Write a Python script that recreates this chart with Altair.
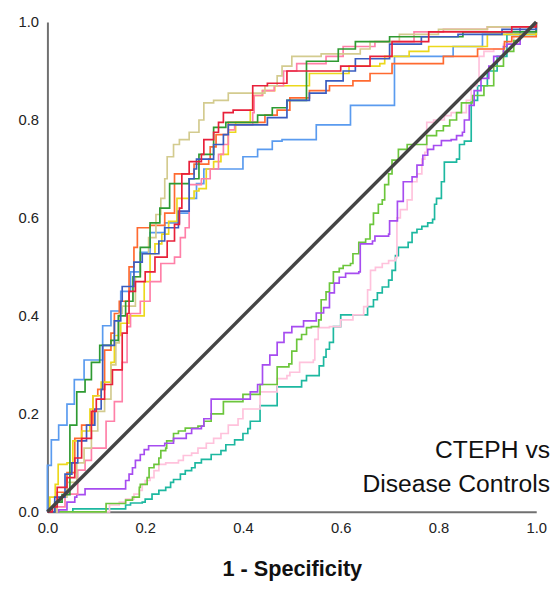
import altair as alt
import pandas as pd

# ---- ROC curves (1 - specificity, sensitivity) ----
tan_x = [0, .02, .04, .06, .075, .09, .103, .117, .13, .14, .147, .153, .18, .19, .207, .222, .232, .24, .245, .258, .27, .29, .31, .32, .34, .37, .43, .445, .47, .48, .50, .56, .64, .66, .72, .80, .90, 1]
tan_y = [0, .03, .06, .10, .13, .165, .205, .23, .30, .345, .405, .42, .48, .527, .56, .607, .64, .68, .725, .75, .76, .775, .80, .835, .84, .855, .855, .87, .89, .91, .93, .935, .945, .96, .975, .985, .99, 1]

red_x = [0, .01, .02, .04, .056, .07, .09, .10, .117, .133, .153, .163, .167, .18, .20, .22, .245, .26, .27, .275, .29, .315, .32, .34, .35, .36, .38, .42, .45, .49, .59, .60, .66, .705, .78, .95, 1]
red_y = [0, .01, .05, .07, .11, .15, .205, .23, .26, .29, .365, .405, .45, .47, .49, .52, .553, .587, .62, .69, .715, .73, .76, .775, .795, .815, .82, .87, .875, .90, .90, .91, .93, .96, .98, .99, 1]

dgreen_x = [0, .015, .03, .046, .06, .077, .09, .107, .13, .145, .16, .175, .19, .21, .23, .25, .29, .31, .34, .365, .43, .46, .49, .53, .53, .595, .63, .70, .85, 1]
dgreen_y = [0, .02, .035, .177, .245, .27, .305, .34, .35, .40, .43, .48, .54, .59, .62, .67, .68, .73, .785, .795, .81, .825, .84, .88, .92, .945, .96, .97, .98, 1]

blue_x = [0, .015, .036, .05, .062, .08, .097, .11, .113, .137, .15, .153, .177, .194, .228, .24, .268, .29, .30, .305, .34, .36, .37, .43, .45, .49, .536, .57, .605, .63, .70, .765, .84, .93, 1]
blue_y = [0, .03, .077, .10, .145, .177, .21, .25, .34, .39, .43, .46, .51, .527, .553, .58, .614, .68, .70, .72, .75, .77, .79, .79, .805, .84, .855, .88, .90, .925, .955, .97, .975, .985, 1]

orange_x = [0, .02, .04, .056, .07, .093, .103, .117, .13, .137, .147, .167, .177, .184, .21, .24, .26, .26, .29, .30, .33, .333, .345, .37, .43, .445, .47, .496, .536, .577, .625, .66, .705, .81, .88, .935, .95, 1]
orange_y = [0, .04, .08, .15, .177, .237, .25, .33, .365, .405, .43, .50, .54, .58, .585, .61, .62, .69, .69, .71, .72, .745, .77, .795, .795, .81, .82, .845, .86, .87, .88, .895, .915, .93, .945, .96, .97, 1]

yellow_x = [0, .005, .016, .022, .04, .052, .07, .087, .093, .11, .13, .137, .15, .167, .198, .21, .22, .234, .248, .265, .29, .30, .31, .32, .325, .34, .355, .37, .385, .415, .42, .44, .465, .536, .60, .617, .68, .69, .74, .78, .90, 1]
yellow_y = [0, .03, .056, .097, .10, .145, .165, .21, .237, .265, .305, .36, .385, .40, .47, .527, .547, .567, .593, .64, .64, .655, .66, .66, .70, .715, .73, .775, .795, .82, .85, .86, .87, .895, .895, .91, .915, .93, .94, .95, .975, 1]

pink_x = [0, .01, .036, .062, .077, .09, .12, .137, .153, .163, .17, .19, .21, .232, .26, .272, .282, .29, .315, .333, .35, .36, .37, .383, .42, .423, .44, .464, .483, .51, .57, .605, .67, .75, .81, .90, 1]
pink_y = [0, .01, .036, .085, .105, .13, .185, .225, .305, .378, .405, .43, .47, .507, .52, .56, .58, .668, .68, .70, .73, .75, .78, .79, .815, .85, .86, .87, .90, .915, .93, .95, .96, .98, .985, .99, 1]

lblue_x = [0, 0, .008, .023, .04, .055, .075, .093, .113, .13, .15, .17, .19, .21, .24, .27, .29, .305, .32, .395, .40, .43, .46, .48, .55, .62, .71, .71, .77, .83, .89, 1]
lblue_y = [0, .095, .147, .177, .22, .27, .31, .31, .38, .41, .45, .49, .53, .57, .59, .61, .64, .67, .70, .70, .725, .74, .757, .76, .79, .83, .885, .93, .93, .95, .975, 1]

purple_x = [0, .023, .04, .056, .06, .077, .157, .16, .167, .174, .18, .19, .198, .207, .238, .24, .258, .28, .284, .295, .315, .32, .335, .34, .415, .43, .44, .455, .47, .484, .50, .524, .55, .565, .577, .587, .597, .61, .637, .64, .665, .67, .698, .70, .716, .728, .746, .756, .768, .778, .79, .806, .826, .837, .849, .853, .863, .873, .887, .903, .913, .933, .94, .967, 1]
purple_y = [0, .004, .02, .03, .035, .047, .047, .064, .077, .09, .105, .117, .127, .135, .135, .14, .15, .15, .16, .17, .175, .19, .23, .23, .245, .26, .30, .32, .346, .366, .378, .39, .406, .417, .447, .467, .479, .487, .49, .547, .553, .563, .567, .594, .634, .674, .684, .708, .728, .74, .748, .758, .76, .768, .775, .80, .83, .86, .885, .91, .93, .95, .955, .99, 1]

lgreen_x = [0, .12, .12, .157, .16, .174, .188, .19, .204, .208, .218, .228, .232, .242, .244, .258, .268, .282, .308, .32, .335, .36, .40, .435, .47, .494, .50, .51, .52, .53, .54, .555, .56, .57, .577, .585, .597, .605, .62, .625, .637, .651, .66, .667, .677, .685, .69, .698, .705, .718, .736, .776, .796, .81, .823, .837, .847, .87, .893, .913, .933, .954, .967, 1]
lgreen_y = [0, 0, .017, .017, .024, .03, .05, .056, .07, .09, .097, .11, .125, .13, .145, .16, .165, .171, .175, .185, .20, .225, .24, .26, .296, .302, .328, .352, .362, .376, .378, .392, .433, .449, .467, .49, .497, .503, .507, .527, .55, .557, .587, .61, .628, .637, .668, .69, .718, .74, .75, .768, .778, .788, .80, .815, .835, .85, .87, .91, .94, .962, .99, 1]

lpink_x = [0, .12, .127, .147, .16, .177, .188, .194, .2, .21, .218, .228, .242, .268, .278, .295, .308, .325, .34, .355, .37, .39, .40, .435, .47, .49, .496, .516, .544, .547, .554, .577, .60, .625, .647, .655, .661, .671, .685, .698, .712, .715, .722, .736, .746, .756, .766, .772, .776, .79, .812, .826, .857, .867, .879, .883, .893, .913, .933, .954, 1]
lpink_y = [0, 0, .014, .02, .026, .036, .044, .056, .064, .07, .084, .097, .1, .105, .115, .12, .13, .14, .15, .16, .177, .19, .21, .245, .272, .278, .285, .305, .31, .352, .376, .378, .392, .402, .419, .453, .493, .499, .507, .513, .519, .60, .617, .637, .674, .69, .72, .734, .795, .80, .809, .815, .84, .87, .88, .93, .94, .945, .955, .98, 1]

teal_x = [0, .052, .16, .17, .194, .2, .214, .228, .242, .252, .258, .272, .282, .295, .302, .315, .335, .355, .365, .383, .40, .41, .415, .435, .47, .516, .52, .53, .554, .556, .565, .57, .577, .585, .60, .65, .655, .667, .675, .685, .698, .705, .712, .718, .738, .746, .756, .766, .778, .788, .792, .796, .806, .812, .837, .843, .853, .867, .867, .88, .90, .92, .94, .94, 1]
teal_y = [0, .006, .014, .018, .02, .026, .036, .044, .05, .06, .066, .077, .084, .09, .10, .107, .117, .125, .137, .147, .16, .17, .185, .217, .255, .255, .268, .278, .278, .298, .316, .332, .346, .378, .402, .402, .419, .433, .447, .459, .473, .493, .523, .54, .55, .57, .577, .583, .59, .597, .628, .64, .674, .714, .72, .75, .757, .757, .84, .87, .90, .93, .935, .975, 1]

diag_x = [0, 1]
diag_y = [0, 1]

curve_names = ["teal", "lpink", "lgreen", "purple", "lblue", "orange", "yellow", "pink", "tan", "dgreen", "blue", "red"]
curve_colors = ["#1db8a0", "#ffc2dc", "#6cc63c", "#a64cf0", "#5a9bef", "#ff6a30", "#ecd81c", "#ff80a8", "#d3cb8f", "#2e9a32", "#3a5cc0", "#e8203a"]
tick_values = [0, 0.2, 0.4, 0.6, 0.8, 1.0]
annotation_lines = ["CTEPH vs", "Disease Controls"]
x_title = "1 - Specificity"

series = {
    "teal": (teal_x, teal_y), "lpink": (lpink_x, lpink_y), "lgreen": (lgreen_x, lgreen_y),
    "purple": (purple_x, purple_y), "lblue": (lblue_x, lblue_y), "orange": (orange_x, orange_y),
    "yellow": (yellow_x, yellow_y), "pink": (pink_x, pink_y), "tan": (tan_x, tan_y),
    "dgreen": (dgreen_x, dgreen_y), "blue": (blue_x, blue_y), "red": (red_x, red_y),
}

rows = []
for name in curve_names:
    xs, ys = series[name]
    for i, (xv, yv) in enumerate(zip(xs, ys)):
        rows.append({"curve": name, "fpr": xv, "tpr": yv, "idx": i})
df = pd.DataFrame(rows)

font = "Liberation Sans"
xs_ = alt.Scale(domain=[0, 1], nice=False, zero=False)
ys_ = alt.Scale(domain=[0, 1], nice=False, zero=False)

xaxis = alt.Axis(title=x_title, values=tick_values, format=".1f", grid=False, ticks=False,
                 labelFlush=False, domainColor="#707070", domainWidth=2, labelFontSize=15,
                 labelFont=font, labelColor="#222", labelPadding=9, titleFontSize=22,
                 titleFont=font, titleFontWeight="bold", titleColor="#111", titlePadding=24)
yaxis = alt.Axis(title=None, values=tick_values, format=".1f", grid=False, ticks=False,
                 labelFlush=False, domainColor="#707070", domainWidth=2, labelFontSize=15,
                 labelFont=font, labelColor="#222", labelPadding=9)

lines = alt.Chart(df).mark_line(interpolate="step-after", strokeWidth=1.7).encode(
    x=alt.X("fpr:Q", scale=xs_, axis=xaxis),
    y=alt.Y("tpr:Q", scale=ys_, axis=yaxis),
    color=alt.Color("curve:N", scale=alt.Scale(domain=curve_names, range=curve_colors), legend=None),
    detail="curve:N",
    order="idx:Q",
)

diag = alt.Chart(pd.DataFrame({"fpr": diag_x, "tpr": diag_y})).mark_line(
    color="#444444", strokeWidth=3.5).encode(
    x=alt.X("fpr:Q", scale=xs_), y=alt.Y("tpr:Q", scale=ys_))

label = alt.Chart(pd.DataFrame({"t": [0]})).mark_text(
    text=annotation_lines, align="right", baseline="alphabetic", fontSize=25,
    font=font, color="#111", lineHeight=35).encode(
    x=alt.value(510), y=alt.value(442))

chart = alt.layer(lines, diag, label).properties(
    width=496, height=497,
    padding={"left": 10, "top": 3, "right": 2, "bottom": 2},
).configure_view(stroke=None)

chart.save("out.html", embed_options={"renderer": "svg", "actions": False})
